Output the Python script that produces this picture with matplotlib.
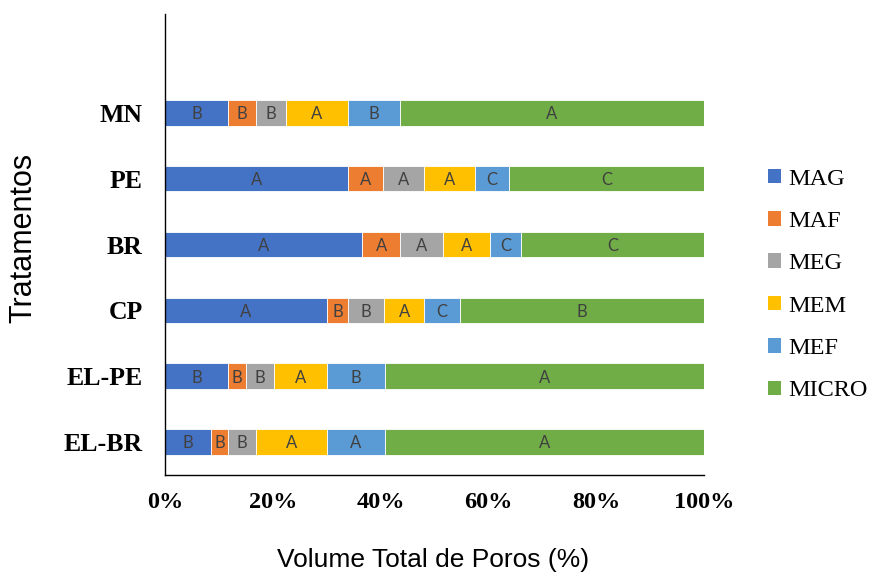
import matplotlib
matplotlib.use("Agg")
import matplotlib.pyplot as plt
from matplotlib.patches import Patch

# Treatments (bottom to top) and pore-class shares (% of total pore volume)
tratamentos = ["EL-BR", "EL-PE", "CP", "BR", "PE", "MN"]
classes = ["MAG", "MAF", "MEG", "MEM", "MEF", "MICRO"]

mag   = [8.6, 11.7, 30.0, 36.6, 34.0, 11.7]
maf   = [3.1, 3.3, 4.0, 7.0, 6.5, 5.2]
meg   = [5.2, 5.3, 6.7, 7.9, 7.6, 5.5]
mem   = [13.2, 9.8, 7.4, 8.8, 9.4, 11.6]
mef   = [10.7, 10.7, 6.6, 5.8, 6.4, 9.6]
micro = [59.2, 59.2, 45.3, 33.9, 36.1, 56.4]

# Statistical grouping letters for each segment
let_mag   = ["B", "B", "A", "A", "A", "B"]
let_maf   = ["B", "B", "B", "A", "A", "B"]
let_meg   = ["B", "B", "B", "A", "A", "B"]
let_mem   = ["A", "A", "A", "A", "A", "A"]
let_mef   = ["A", "B", "C", "C", "C", "B"]
let_micro = ["A", "A", "B", "C", "C", "A"]

series = [mag, maf, meg, mem, mef, micro]
letters = [let_mag, let_maf, let_meg, let_mem, let_mef, let_micro]
colors = ["#4472C4", "#ED7D31", "#A5A5A5", "#FFC000", "#5B9BD5", "#70AD47"]

fig = plt.figure(figsize=(8.75, 5.74), dpi=100)
ax = fig.add_axes([165 / 875, 1 - 475 / 574, (704 - 165) / 875, (475 - 14) / 574])

ypos = list(range(len(tratamentos)))
left = [0.0] * len(tratamentos)
for vals, labs, col in zip(series, letters, colors):
    ax.barh(ypos, vals, left=left, height=0.39, color=col,
            edgecolor="white", linewidth=0.6)
    for y, v, l, lab in zip(ypos, vals, left, labs):
        ax.text(l + v / 2, y - 0.02, lab, ha="center", va="center",
                fontsize=12, color="#404040", family="Lato")
    left = [a + b for a, b in zip(left, vals)]

ax.set_xlim(0, 100)
ax.set_ylim(-0.5, 6.5)
ax.set_xticks([0, 20, 40, 60, 80, 100])
ax.set_xticklabels([f"{t}%" for t in [0, 20, 40, 60, 80, 100]])
ax.set_yticks(ypos)
ax.set_yticklabels(tratamentos)
for lab in ax.get_xticklabels():
    lab.set_family("Liberation Serif")
    lab.set_fontweight("bold")
    lab.set_fontsize(17.5)
for lab in ax.get_yticklabels():
    lab.set_family("Liberation Serif")
    lab.set_fontweight("bold")
    lab.set_fontsize(18.5)
ax.tick_params(axis="x", length=0, pad=12)
ax.tick_params(axis="y", length=0, pad=16)

for s in ["top", "right"]:
    ax.spines[s].set_visible(False)
for s in ["left", "bottom"]:
    ax.spines[s].set_color("black")
    ax.spines[s].set_linewidth(1.0)

ax.set_xlabel("Volume Total de Poros (%)", family="Liberation Sans",
              fontsize=19, va="center")
ax.xaxis.set_label_coords(0.498, -0.184)
ax.set_ylabel("Tratamentos", family="Liberation Sans", fontsize=22,
              va="center")
ax.yaxis.set_label_coords(-0.262, 0.515)

handles = [Patch(facecolor=c, edgecolor="none") for c in colors]
fig.legend(handles, classes, loc="center left",
           bbox_to_anchor=(768 / 875, 1 - 285 / 574),
           frameon=False, prop={"family": "Liberation Serif", "size": 17.5},
           handlelength=0.55, handleheight=0.55, handletextpad=0.3,
           labelspacing=0.88, borderpad=0, borderaxespad=0)

fig.savefig("out.png", dpi=100)
